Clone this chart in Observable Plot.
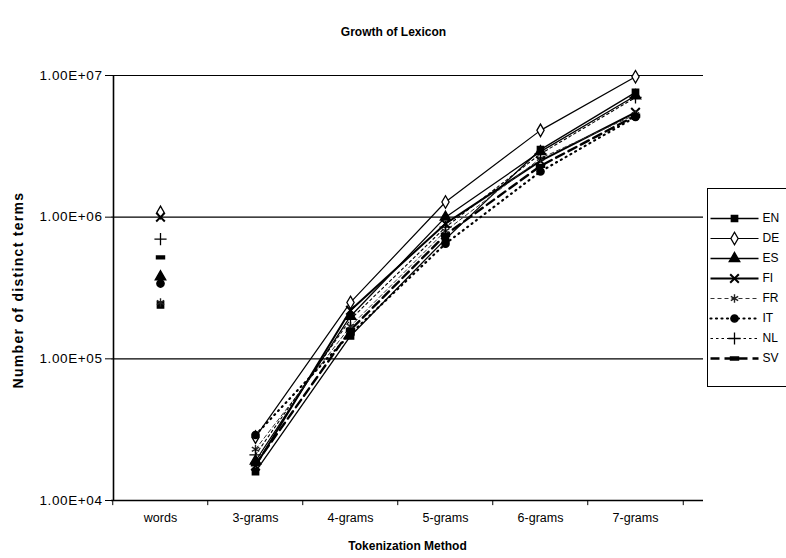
<!DOCTYPE html>
<html><head><meta charset="utf-8">
<script src="https://cdn.jsdelivr.net/npm/d3@7"></script>
<script src="https://cdn.jsdelivr.net/npm/@observablehq/plot@0.6"></script>
<style>
html,body{margin:0;padding:0;background:#fff;overflow:hidden;width:786px;height:558px;}
#wrap{position:relative;width:786px;height:558px;font-family:"Liberation Sans",Arial,sans-serif;}
#legend{position:absolute;left:707px;top:188px;width:84px;height:197px;border:1px solid #000;background:#fff;}
svg{font-family:"Liberation Sans",Arial,sans-serif;}
</style></head><body><div id="wrap"><div id="chart"></div><div id="legend"></div></div>
<script>
const categories = ["words", "3-grams", "4-grams", "5-grams", "6-grams", "7-grams"];
const series = ["EN", "DE", "ES", "FI", "FR", "IT", "NL", "SV"];
const valuesEN = [2.4e5, 1.6e4, 1.45e5, 7.0e5, 3.0e6, 7.6e6];
const valuesDE = [1.08e6, 2.8e4, 2.5e5, 1.28e6, 4.1e6, 9.8e6];
const valuesES = [3.8e5, 1.9e4, 2.0e5, 1.0e6, 2.9e6, 7.2e6];
const valuesFI = [1.0e6, 1.75e4, 2.2e5, 9.0e5, 2.5e6, 5.5e6];
const valuesFR = [2.5e5, 2.3e4, 1.7e5, 8.0e5, 2.6e6, 5.3e6];
const valuesIT = [3.4e5, 2.9e4, 1.5e5, 6.5e5, 2.1e6, 5.1e6];
const valuesNL = [7.0e5, 2.1e4, 1.9e5, 8.5e5, 2.8e6, 7.0e6];
const valuesSV = [5.2e5, 1.8e4, 1.6e5, 7.5e5, 2.3e6, 5.2e6];
const yTicks = [1e4, 1e5, 1e6, 1e7];
const yTickLabels = ["1.00E+04", "1.00E+05", "1.00E+06", "1.00E+07"];
const titleText = "Growth of Lexicon";
const xLabel = "Tokenization Method";
const yLabel = "Number of distinct terms";

const valuesBySeries = {EN: valuesEN, DE: valuesDE, ES: valuesES, FI: valuesFI, FR: valuesFR, IT: valuesIT, NL: valuesNL, SV: valuesSV};
const rows = [];
for (const s of series) valuesBySeries[s].forEach((v, i) => rows.push({series: s, cat: categories[i], value: v}));

const dashSymbol = {draw(ctx, size) { const r = Math.sqrt(size); const w = r * 0.7, h = r * 0.25; ctx.moveTo(-w, -h); ctx.lineTo(w, -h); ctx.lineTo(w, h); ctx.lineTo(-w, h); ctx.closePath(); }};

const styles = {
  EN: {line: {strokeWidth: 1.3}, dot: {symbol: "square", fill: "black", stroke: "black", r: 3.5}},
  DE: {line: {strokeWidth: 1.2}, dot: {symbol: "diamond", fill: "white", stroke: "black", strokeWidth: 1.3, r: 3.8}},
  ES: {line: {strokeWidth: 1.3}, dot: {symbol: "triangle", fill: "black", stroke: "black", r: 3.8}},
  FI: {line: {strokeWidth: 2}, dot: {symbol: "times", fill: "none", stroke: "black", strokeWidth: 2, r: 4}},
  FR: {line: {strokeWidth: 1, strokeDasharray: "4,3", stroke: "#333"}, dot: {symbol: "asterisk", fill: "none", stroke: "#222", strokeWidth: 1.4, r: 4}},
  IT: {line: {strokeWidth: 2.2, strokeDasharray: "1,4.5", strokeLinecap: "round"}, dot: {symbol: "circle", fill: "black", stroke: "black", r: 3.6}},
  NL: {line: {strokeWidth: 1.1, strokeDasharray: "2.5,3"}, dot: {symbol: "plus", fill: "none", stroke: "black", strokeWidth: 1.3, r: 4}},
  SV: {line: {strokeWidth: 2.4, strokeDasharray: "9,5"}, dot: {symbol: dashSymbol, fill: "black", stroke: "black", r: 3.2}}
};

const lineMarks = [], dotMarks = [];
for (const s of series) {
  const st = styles[s];
  lineMarks.push(Plot.line(rows.filter(d => d.series === s && d.cat !== "words"), {x: "cat", y: "value", stroke: "black", ...st.line}));
  dotMarks.push(Plot.dot(rows.filter(d => d.series === s), {x: "cat", y: "value", ...st.dot}));
}

const chart = Plot.plot({
  width: 786, height: 558,
  marginTop: 75, marginBottom: 58, marginLeft: 111, marginRight: 83,
  style: {background: "white", fontFamily: "'Liberation Sans', Arial, sans-serif", fontSize: "12px", color: "black"},
  x: {type: "point", domain: categories, range: [158, 636], padding: 0, axis: null},
  y: {type: "log", domain: [1e4, 1e7], axis: null},
  marks: [
    Plot.ruleY(yTicks.slice(1), {stroke: "black", strokeWidth: 1.2}),
    Plot.ruleY([yTicks[0]], {stroke: "black", strokeWidth: 1.6}),
    Plot.ruleX([categories[0]], {dx: -47, stroke: "black", strokeWidth: 1.6}),
    Plot.ruleX(categories, {dx: -47.75, y1: yTicks[0], y2: 9.2e3, stroke: "black"}),
    Plot.ruleX([categories[categories.length - 1]], {dx: 47.75, y1: yTicks[0], y2: 9.2e3, stroke: "black"}),
    Plot.axisY({ticks: yTicks, tickFormat: d => yTickLabels[yTicks.indexOf(d)], tickSize: 6, tickPadding: 3, fontSize: 13.5, label: null}),
    Plot.text(categories, {x: d => d, frameAnchor: "bottom", dy: 21, fontSize: 12.5}),
    ...lineMarks,
    ...dotMarks,
    Plot.text([titleText], {frameAnchor: "top", dy: -48, dx: -14, fontWeight: "bold", fontSize: 12}),
    Plot.text([xLabel], {frameAnchor: "bottom", dy: 49, fontWeight: "bold", fontSize: 12}),
    Plot.text([yLabel], {frameAnchor: "left", textAnchor: "middle", dx: -93, dy: 2, rotate: -90, fontWeight: "bold", fontSize: 14})
  ]
});
document.getElementById("chart").appendChild(chart);
d3.select(chart).selectAll("text").filter(function() { return this.textContent === yLabel; }).style("letter-spacing", "1.3px");
d3.select(chart).selectAll("text").filter(function() { return yTickLabels.includes(this.textContent); }).style("letter-spacing", "0.6px");

// legend
const legendRows = series.map(s => ({series: s}));
const legendMarks = [];
for (const s of series) {
  const st = styles[s];
  legendMarks.push(Plot.link([{series: s}], {x1: () => 2, x2: () => 50, y1: "series", y2: "series", stroke: "black", ...st.line}));
  legendMarks.push(Plot.dot([{series: s}], {x: () => 26, y: "series", ...st.dot}));
}
const legend = Plot.plot({
  width: 84, height: 197, margin: 0,
  style: {background: "white", fontFamily: "'Liberation Sans', Arial, sans-serif", fontSize: "12px"},
  x: {type: "linear", domain: [0, 84], range: [0, 84], axis: null},
  y: {type: "point", domain: series, range: [16, 182], axis: null},
  marks: [
    ...legendMarks,
    Plot.text(legendRows, {x: () => 54, y: "series", text: "series", textAnchor: "start", fontSize: 12})
  ]
});
document.getElementById("legend").appendChild(legend);
</script></body></html>
